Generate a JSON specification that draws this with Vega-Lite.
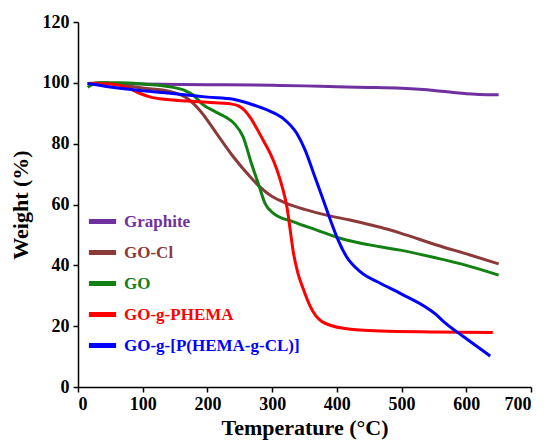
{
  "$schema": "https://vega.github.io/schema/vega-lite/v6.json",
  "width": 453,
  "height": 365,
  "autosize": {"type": "none"},
  "padding": {"left": 78, "top": 22, "right": 16, "bottom": 55},
  "background": "white",
  "config": {
    "view": {"stroke": null},
    "font": "Liberation Serif",
    "axis": {"grid": false, "domainColor": "black", "tickColor": "black", "domainWidth": 1.5, "tickWidth": 1.5, "labelFont": "Liberation Serif", "labelFontWeight": "bold", "labelFontSize": 18, "labelColor": "black", "titleFont": "Liberation Serif", "titleFontWeight": "bold", "titleFontSize": 22, "titleColor": "black"}
  },
  "data": {"values": [
    {"s": "Graphite", "T": 15, "W": 99.8},
    {"s": "Graphite", "T": 50, "W": 99.8},
    {"s": "Graphite", "T": 100, "W": 99.6},
    {"s": "Graphite", "T": 200, "W": 99.4},
    {"s": "Graphite", "T": 300, "W": 99.2},
    {"s": "Graphite", "T": 350, "W": 99.0},
    {"s": "Graphite", "T": 400, "W": 98.7},
    {"s": "Graphite", "T": 450, "W": 98.5},
    {"s": "Graphite", "T": 500, "W": 98.2},
    {"s": "Graphite", "T": 550, "W": 97.5},
    {"s": "Graphite", "T": 580, "W": 96.8},
    {"s": "Graphite", "T": 600, "W": 96.4},
    {"s": "Graphite", "T": 620, "W": 96.2},
    {"s": "Graphite", "T": 650, "W": 96.1},

    {"s": "GO-Cl", "T": 15, "W": 99.8},
    {"s": "GO-Cl", "T": 40, "W": 100},
    {"s": "GO-Cl", "T": 65, "W": 99.3},
    {"s": "GO-Cl", "T": 100, "W": 98.3},
    {"s": "GO-Cl", "T": 142, "W": 97.2},
    {"s": "GO-Cl", "T": 168, "W": 95},
    {"s": "GO-Cl", "T": 190, "W": 90.5},
    {"s": "GO-Cl", "T": 214, "W": 83.4},
    {"s": "GO-Cl", "T": 240, "W": 75.7},
    {"s": "GO-Cl", "T": 266, "W": 69.1},
    {"s": "GO-Cl", "T": 281, "W": 65.8},
    {"s": "GO-Cl", "T": 300, "W": 62.6},
    {"s": "GO-Cl", "T": 322, "W": 60.4},
    {"s": "GO-Cl", "T": 350, "W": 58.4},
    {"s": "GO-Cl", "T": 384, "W": 56.5},
    {"s": "GO-Cl", "T": 420, "W": 54.9},
    {"s": "GO-Cl", "T": 467, "W": 52.5},
    {"s": "GO-Cl", "T": 498, "W": 50.6},
    {"s": "GO-Cl", "T": 554, "W": 46.7},
    {"s": "GO-Cl", "T": 606, "W": 43.4},
    {"s": "GO-Cl", "T": 650, "W": 40.5},

    {"s": "GO", "T": 15, "W": 98.5},
    {"s": "GO", "T": 22, "W": 99.5},
    {"s": "GO", "T": 30, "W": 100},
    {"s": "GO", "T": 65, "W": 100},
    {"s": "GO", "T": 100, "W": 99.6},
    {"s": "GO", "T": 142, "W": 98.7},
    {"s": "GO", "T": 165, "W": 97.5},
    {"s": "GO", "T": 178, "W": 96},
    {"s": "GO", "T": 192, "W": 93},
    {"s": "GO", "T": 214, "W": 90.3},
    {"s": "GO", "T": 230, "W": 88.5},
    {"s": "GO", "T": 242, "W": 86.5},
    {"s": "GO", "T": 255, "W": 82.3},
    {"s": "GO", "T": 268, "W": 73.5},
    {"s": "GO", "T": 280, "W": 66},
    {"s": "GO", "T": 289, "W": 60.4},
    {"s": "GO", "T": 302, "W": 57.1},
    {"s": "GO", "T": 333, "W": 54.3},
    {"s": "GO", "T": 369, "W": 51.6},
    {"s": "GO", "T": 405, "W": 48.9},
    {"s": "GO", "T": 467, "W": 46.1},
    {"s": "GO", "T": 498, "W": 45},
    {"s": "GO", "T": 554, "W": 42.4},
    {"s": "GO", "T": 600, "W": 40},
    {"s": "GO", "T": 650, "W": 36.8},

    {"s": "GO-g-PHEMA", "T": 15, "W": 99.8},
    {"s": "GO-g-PHEMA", "T": 50, "W": 99.6},
    {"s": "GO-g-PHEMA", "T": 75, "W": 98.5},
    {"s": "GO-g-PHEMA", "T": 96, "W": 96.5},
    {"s": "GO-g-PHEMA", "T": 111, "W": 95.4},
    {"s": "GO-g-PHEMA", "T": 137, "W": 94.5},
    {"s": "GO-g-PHEMA", "T": 170, "W": 94},
    {"s": "GO-g-PHEMA", "T": 200, "W": 93.6},
    {"s": "GO-g-PHEMA", "T": 235, "W": 93.1},
    {"s": "GO-g-PHEMA", "T": 248, "W": 92.4},
    {"s": "GO-g-PHEMA", "T": 258, "W": 90.8},
    {"s": "GO-g-PHEMA", "T": 267, "W": 88.3},
    {"s": "GO-g-PHEMA", "T": 277, "W": 84.7},
    {"s": "GO-g-PHEMA", "T": 287, "W": 80.8},
    {"s": "GO-g-PHEMA", "T": 297, "W": 76.8},
    {"s": "GO-g-PHEMA", "T": 307, "W": 71.7},
    {"s": "GO-g-PHEMA", "T": 316, "W": 65.5},
    {"s": "GO-g-PHEMA", "T": 323, "W": 59},
    {"s": "GO-g-PHEMA", "T": 328, "W": 51.5},
    {"s": "GO-g-PHEMA", "T": 333, "W": 44},
    {"s": "GO-g-PHEMA", "T": 340, "W": 37.3},
    {"s": "GO-g-PHEMA", "T": 348, "W": 32.3},
    {"s": "GO-g-PHEMA", "T": 359, "W": 26.4},
    {"s": "GO-g-PHEMA", "T": 377, "W": 21.5},
    {"s": "GO-g-PHEMA", "T": 410, "W": 19.3},
    {"s": "GO-g-PHEMA", "T": 467, "W": 18.4},
    {"s": "GO-g-PHEMA", "T": 549, "W": 18.1},
    {"s": "GO-g-PHEMA", "T": 641, "W": 17.9},

    {"s": "GO-g-[P(HEMA-g-CL)]", "T": 15, "W": 99.8},
    {"s": "GO-g-[P(HEMA-g-CL)]", "T": 65, "W": 98.2},
    {"s": "GO-g-[P(HEMA-g-CL)]", "T": 116, "W": 97.1},
    {"s": "GO-g-[P(HEMA-g-CL)]", "T": 168, "W": 96},
    {"s": "GO-g-[P(HEMA-g-CL)]", "T": 200, "W": 95.3},
    {"s": "GO-g-[P(HEMA-g-CL)]", "T": 240, "W": 94.6},
    {"s": "GO-g-[P(HEMA-g-CL)]", "T": 270, "W": 92.8},
    {"s": "GO-g-[P(HEMA-g-CL)]", "T": 292, "W": 91.1},
    {"s": "GO-g-[P(HEMA-g-CL)]", "T": 317, "W": 88.3},
    {"s": "GO-g-[P(HEMA-g-CL)]", "T": 338, "W": 83.4},
    {"s": "GO-g-[P(HEMA-g-CL)]", "T": 351, "W": 77.9},
    {"s": "GO-g-[P(HEMA-g-CL)]", "T": 366, "W": 69.1},
    {"s": "GO-g-[P(HEMA-g-CL)]", "T": 379, "W": 61.5},
    {"s": "GO-g-[P(HEMA-g-CL)]", "T": 390, "W": 54.9},
    {"s": "GO-g-[P(HEMA-g-CL)]", "T": 402, "W": 48.3},
    {"s": "GO-g-[P(HEMA-g-CL)]", "T": 415, "W": 42.8},
    {"s": "GO-g-[P(HEMA-g-CL)]", "T": 436, "W": 37.9},
    {"s": "GO-g-[P(HEMA-g-CL)]", "T": 467, "W": 34.1},
    {"s": "GO-g-[P(HEMA-g-CL)]", "T": 498, "W": 30.8},
    {"s": "GO-g-[P(HEMA-g-CL)]", "T": 554, "W": 23.7},
    {"s": "GO-g-[P(HEMA-g-CL)]", "T": 565, "W": 21.5},
    {"s": "GO-g-[P(HEMA-g-CL)]", "T": 596, "W": 16.5},
    {"s": "GO-g-[P(HEMA-g-CL)]", "T": 637, "W": 10.2}
  ]},
  "mark": {"type": "line", "strokeWidth": 3, "interpolate": "monotone"},
  "encoding": {
    "x": {"field": "T", "type": "quantitative", "scale": {"domain": [0, 700], "nice": false}, "axis": {"values": [0, 100, 200, 300, 400, 500, 600, 700], "title": "Temperature (°C)", "tickSize": 5, "labelPadding": 3, "titlePadding": 4}},
    "y": {"field": "W", "type": "quantitative", "scale": {"domain": [0, 120], "nice": false}, "axis": {"values": [0, 20, 40, 60, 80, 100, 120], "title": "Weight (%)", "tickSize": 5, "labelPadding": 4, "titlePadding": 10}},
    "color": {
      "field": "s", "type": "nominal",
      "scale": {"domain": ["Graphite", "GO-Cl", "GO", "GO-g-PHEMA", "GO-g-[P(HEMA-g-CL)]"], "range": ["#7030A0", "#8B3A3A", "#138013", "#FF0000", "#0000FF"]},
      "legend": {
        "orient": "none", "legendX": 8, "legendY": 183, "title": null,
        "symbolType": "stroke", "symbolStrokeWidth": 5, "symbolSize": 740,
        "labelFont": "Liberation Serif", "labelFontWeight": "bold", "labelFontSize": 17, "labelOffset": 5,
        "rowPadding": 4, "labelLimit": 300,
        "encode": {"labels": {"update": {"fill": {"signal": "scale('color', datum.value)"}}}}
      }
    },
    "order": {"field": "T", "type": "quantitative"}
  }
}
